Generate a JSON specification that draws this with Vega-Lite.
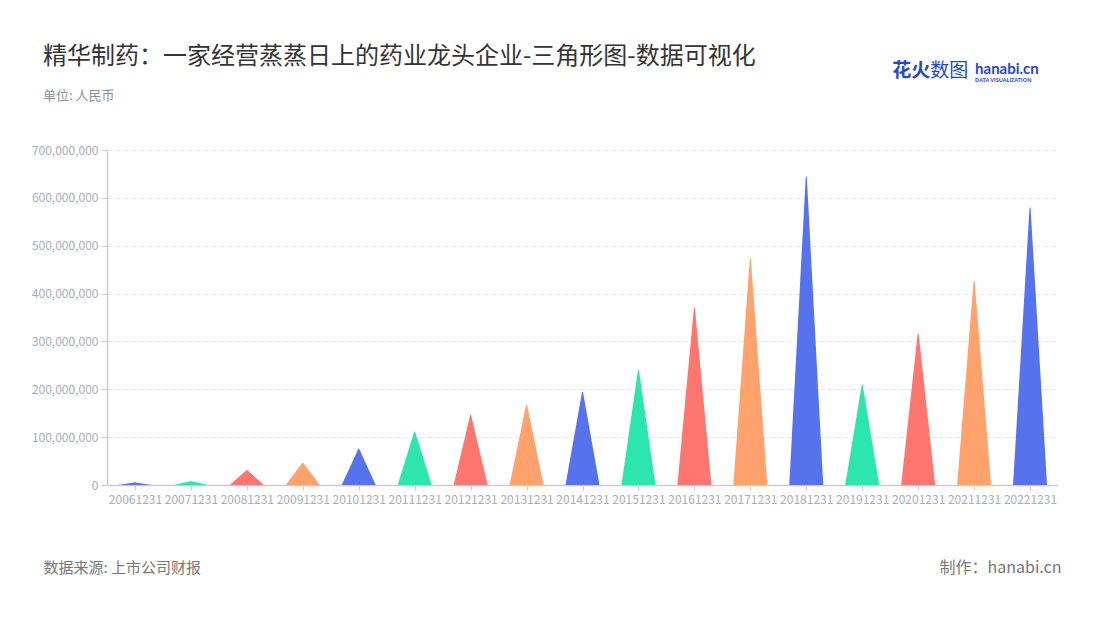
{
  "$schema": "https://vega.github.io/schema/vega-lite/v6.json",
  "width": 951,
  "height": 335,
  "autosize": {"type": "none"},
  "padding": {"left": 107, "top": 150, "right": 42, "bottom": 135},
  "background": "white",
  "config": {
    "font": "Noto Sans CJK SC",
    "view": {"stroke": null},
    "axis": {"labelFont": "Noto Sans CJK SC", "titleFont": "Noto Sans CJK SC"}
  },
  "title": {
    "text": "精华制药：一家经营蒸蒸日上的药业龙头企业-三角形图-数据可视化",
    "subtitle": "单位: 人民币",
    "anchor": "start",
    "frame": "group",
    "dx": -64,
    "offset": -41,
    "fontSize": 24,
    "fontWeight": "normal",
    "color": "#333333",
    "subtitleFontSize": 13,
    "subtitleColor": "#8a8f99",
    "subtitlePadding": 21
  },
  "data": {
    "values": [
      {"date": "20061231", "base": 0, "revenue": 5000000},
      {"date": "20071231", "base": 0, "revenue": 8000000},
      {"date": "20081231", "base": 0, "revenue": 31000000},
      {"date": "20091231", "base": 0, "revenue": 46000000},
      {"date": "20101231", "base": 0, "revenue": 75000000},
      {"date": "20111231", "base": 0, "revenue": 111000000},
      {"date": "20121231", "base": 0, "revenue": 146000000},
      {"date": "20131231", "base": 0, "revenue": 167000000},
      {"date": "20141231", "base": 0, "revenue": 194000000},
      {"date": "20151231", "base": 0, "revenue": 240000000},
      {"date": "20161231", "base": 0, "revenue": 370000000},
      {"date": "20171231", "base": 0, "revenue": 472000000},
      {"date": "20181231", "base": 0, "revenue": 644000000},
      {"date": "20191231", "base": 0, "revenue": 209000000},
      {"date": "20201231", "base": 0, "revenue": 316000000},
      {"date": "20211231", "base": 0, "revenue": 426000000},
      {"date": "20221231", "base": 0, "revenue": 579000000}
    ]
  },
  "layer": [
    {
      "transform": [{"fold": ["base", "revenue"], "as": ["part", "amount"]}],
      "mark": {"type": "trail", "clip": true},
      "encoding": {
        "x": {
          "field": "date",
          "type": "nominal",
          "sort": null,
          "scale": {"type": "point", "padding": 0.5},
          "axis": {
            "title": "数据来源: 上市公司财报",
            "titleAnchor": "start",
            "titleAlign": "left",
            "titleBaseline": "middle",
            "titleX": -64,
            "titleY": 82,
            "titleFontSize": 15,
            "titleFontWeight": "normal",
            "titleColor": "#777777",
            "labelAngle": 0,
            "labelOverlap": false,
            "labelFontSize": 12,
            "labelColor": "#a9adb8",
            "labelPadding": 4,
            "domainColor": "#cccccc",
            "domainWidth": 1.5,
            "tickColor": "#cccccc",
            "tickSize": 5,
            "grid": false
          }
        },
        "y": {
          "field": "amount",
          "type": "quantitative",
          "scale": {"domain": [0, 700000000], "nice": false},
          "axis": {
            "title": "制作：hanabi.cn",
            "titleAngle": 0,
            "titleAlign": "right",
            "titleBaseline": "middle",
            "titleX": 954,
            "titleY": 417,
            "titleFontSize": 16,
            "titleFontWeight": "normal",
            "titleColor": "#777777",
            "values": [0, 100000000, 200000000, 300000000, 400000000, 500000000, 600000000, 700000000],
            "format": ",d",
            "labelFontSize": 12,
            "labelColor": "#a9adb8",
            "labelPadding": 3,
            "domainColor": "#cccccc",
            "domainWidth": 1.5,
            "tickColor": "#cccccc",
            "tickSize": 6,
            "grid": true,
            "gridColor": "#e3e3e3",
            "gridDash": [4, 4]
          }
        },
        "size": {
          "field": "part",
          "type": "nominal",
          "scale": {"type": "ordinal", "domain": ["base", "revenue"], "range": [34, 0]},
          "legend": null
        },
        "order": {"field": "part", "sort": "ascending"},
        "color": {
          "field": "date",
          "type": "nominal",
          "scale": {"range": ["#5672EC", "#2DE6AE", "#FF7570", "#FFA26E"]},
          "legend": null
        }
      }
    },
    {
      "data": {"values": [{"logo": "花火"}]},
      "mark": {"type": "text", "align": "left", "baseline": "middle", "dx": -26, "dy": -79, "fontSize": 19, "fontWeight": "bold", "color": "#2846c8"},
      "encoding": {
        "x": {"datum": "20201231", "type": "nominal"},
        "y": {"datum": 700000000, "type": "quantitative"},
        "text": {"field": "logo"}
      }
    },
    {
      "data": {"values": [{"logo": "数图"}]},
      "mark": {"type": "text", "align": "left", "baseline": "middle", "dx": 12, "dy": -79, "fontSize": 19, "fontWeight": "normal", "color": "#2846c8"},
      "encoding": {
        "x": {"datum": "20201231", "type": "nominal"},
        "y": {"datum": 700000000, "type": "quantitative"},
        "text": {"field": "logo"}
      }
    },
    {
      "data": {"values": [{"logo": "hanabi.cn"}]},
      "mark": {"type": "text", "align": "left", "baseline": "middle", "dx": 1, "dy": -81, "fontSize": 15, "fontWeight": "bold", "color": "#2846c8", "font": "Lato"},
      "encoding": {
        "x": {"datum": "20211231", "type": "nominal"},
        "y": {"datum": 700000000, "type": "quantitative"},
        "text": {"field": "logo"}
      }
    },
    {
      "data": {"values": [{"logo": "DATA VISUALIZATION"}]},
      "mark": {"type": "text", "align": "left", "baseline": "middle", "dx": 1, "dy": -70, "fontSize": 5.5, "fontWeight": "bold", "color": "#2846c8", "font": "Lato", "letterSpacing": 0.6},
      "encoding": {
        "x": {"datum": "20211231", "type": "nominal"},
        "y": {"datum": 700000000, "type": "quantitative"},
        "text": {"field": "logo"}
      }
    }
  ]
}
